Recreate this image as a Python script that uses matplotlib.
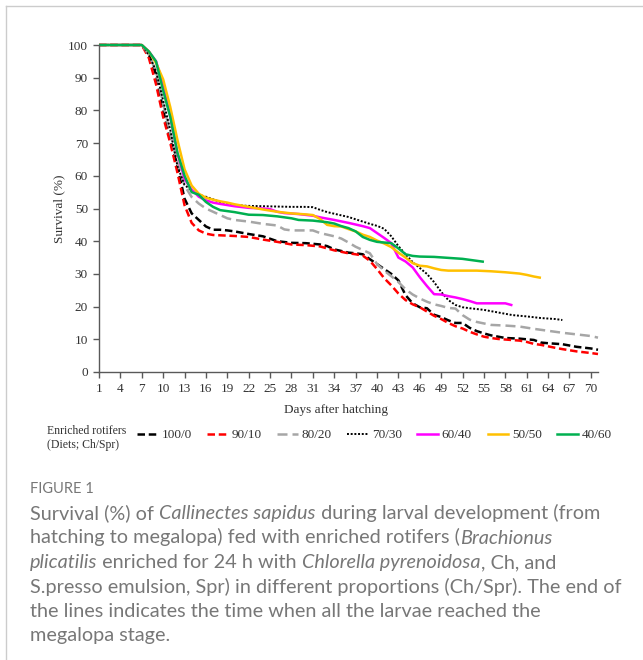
import numpy as np
import matplotlib
matplotlib.use("Agg")
import matplotlib.pyplot as plt
from matplotlib.lines import Line2D

# Dados (dia, sobrevivência %)
dias_100_0 = [1, 7, 8, 9, 10, 11, 12, 13, 14, 15, 16, 17, 18, 19, 20, 22, 24, 26, 28, 30, 32, 33, 34, 36, 37,
              38, 39, 40, 41, 42, 43, 44, 45, 46, 47, 48, 49, 50, 51, 52, 53, 54, 55, 56, 58, 60, 62, 63, 64,
              66, 68, 70, 71]
surv_100_0 = [100, 100, 97, 91, 80, 71, 63, 53, 48.5, 46.5, 44.5, 43.5, 43.5, 43.3, 43, 42.2, 41.5, 40, 39.5,
              39.4, 39, 38.5, 37.5, 36.5, 36.3, 36, 34.5, 33, 31.5, 30, 28, 23.5, 21, 19.8, 19.5, 17.5, 16.8,
              15.8, 15, 15, 13.5, 12.5, 11.8, 11.2, 10.4, 10.2, 9.8, 9, 8.8, 8.5, 7.7, 7.2, 6.8]

dias_90_10 = [1, 7, 8, 9, 10, 11, 12, 13, 14, 15, 16, 17, 18, 20, 22, 24, 26, 28, 30, 32, 34, 36, 37, 38, 39,
              40, 41, 42, 43, 44, 45, 46, 47, 48, 49, 50, 51, 52, 53, 54, 55, 56, 57, 60, 61, 62, 63, 65, 66,
              68, 70, 71]
surv_90_10 = [100, 100, 96, 88, 78, 70, 61, 51, 45.6, 43.3, 42.3, 41.9, 41.8, 41.6, 41.3, 40.5, 39.8, 39, 38.8,
              38.4, 37.2, 36.3, 36, 35.6, 34, 31.5, 28.7, 26.5, 24, 22, 20.7, 19.8, 18.5, 17.2, 16.2, 15, 14,
              13.3, 12.3, 11.5, 10.8, 10.4, 10.1, 9.6, 9.2, 8.6, 8.3, 7.4, 7, 6.3, 5.8, 5.5]

dias_80_20 = [1, 7, 8, 9, 10, 11, 12, 13, 14, 15, 16, 17, 18, 19, 20, 22, 24, 26, 27, 28, 31, 32, 33, 34, 35,
              36, 37, 38, 39, 40, 41, 42, 43, 44, 45, 46, 47, 48, 49, 50, 51, 52, 53, 54, 56, 58, 60, 62, 64,
              66, 68, 70, 71]
surv_80_20 = [100, 100, 97, 92, 82, 73, 64, 57, 53.5, 51.5, 50, 49, 48, 47, 46.5, 46, 45.3, 44.8, 43.6, 43.3,
              43.3, 42.5, 42, 41.5, 40.8, 39.6, 38.3, 37.3, 36.3, 33, 31, 29.3, 27.5, 25.3, 23.7, 22.5, 21.5,
              20.7, 20.2, 19.6, 19.4, 17.4, 16, 15.3, 14.4, 14.2, 13.9, 13.2, 12.6, 12, 11.5, 11, 10.5]

dias_70_30 = [1, 7, 8, 9, 10, 11, 12, 13, 14, 15, 16, 17, 18, 19, 20, 22, 24, 26, 28, 30, 31, 32, 33, 34, 35,
              36, 37, 38, 39, 40, 41, 42, 43, 44, 45, 46, 47, 48, 49, 50, 51, 52, 53, 55, 57, 59, 61, 63, 65, 66]
surv_70_30 = [100, 100, 97, 92, 83, 74, 63, 57.2, 55.5, 54.2, 53.6, 52.8, 52, 51.5, 51, 50.8, 50.7, 50.6, 50.5,
              50.5, 50.4, 49.6, 48.9, 48.4, 47.9, 47.4, 46.7, 46, 45.3, 44.7, 43.8, 41.5, 38.5, 36, 33.6, 31.8,
              30, 27.5, 24.5, 22, 20.5, 19.8, 19.5, 19, 18.2, 17.4, 17, 16.5, 16.2, 15.9]

dias_60_40 = [1, 7, 8, 9, 10, 11, 12, 13, 14, 15, 16, 17, 18, 20, 22, 24, 25, 26, 27, 29, 31, 32, 34, 36, 37,
              38, 39, 40, 41, 42, 43, 44, 45, 46, 47, 48, 49, 50, 51, 52, 53, 54, 56, 58, 59]
surv_60_40 = [100, 100, 98, 95, 88, 78, 67, 59, 55.8, 53.6, 52.5, 51.8, 51.4, 50.7, 50.2, 50, 49.8, 49, 48.6,
              48.3, 47.8, 47.3, 46.5, 45.6, 45.1, 44.6, 44, 42.5, 41, 39.4, 35, 33.8, 32, 29, 26.3, 23.8, 23.7,
              23.2, 22.8, 22.3, 21.7, 21, 21, 21, 20.4]

dias_50_50 = [1, 7, 8, 9, 10, 11, 12, 13, 14, 15, 16, 17, 18, 19, 20, 22, 24, 26, 28, 30, 31, 32, 33, 34, 35,
              36, 37, 38, 39, 40, 41, 42, 43, 44, 45, 46, 47, 48, 49, 50, 52, 54, 56, 58, 60, 61, 62, 63]
surv_50_50 = [100, 100, 98, 94.5, 89.5, 81, 71, 62, 57, 54.5, 53.3, 52.7, 52.2, 51.8, 51.3, 50.5, 49.7, 49, 48.5,
              48.2, 48, 46.8, 45, 44.6, 44.5, 43.7, 43, 42, 41.3, 40.2, 39.3, 38.2, 36.5, 35, 33.3, 32.5, 32.3,
              31.7, 31.2, 31, 31, 31, 30.8, 30.5, 30.1, 29.7, 29.2, 28.8]

dias_40_60 = [1, 7, 8, 9, 10, 11, 12, 13, 14, 15, 16, 17, 18, 19, 20, 22, 24, 26, 28, 29, 31, 33, 34, 35, 36,
              37, 38, 39, 40, 41, 42, 43, 44, 45, 46, 48, 50, 52, 53, 54, 55]
surv_40_60 = [100, 100, 98, 95, 86, 78, 67, 60, 55, 54.2, 52, 50.5, 49.5, 49.2, 48.9, 48.1, 48, 47.6, 47, 46.5,
              46.3, 45.8, 45.4, 44.6, 44, 43, 41.3, 40.4, 39.8, 39.6, 39.4, 37.8, 36, 35.5, 35.3, 35.2, 34.9,
              34.6, 34.3, 34, 33.7]

rotulos = ["100/0", "90/10", "80/20", "70/30", "60/40", "50/50", "40/60"]
ticks_x = list(range(1, 71, 3))
ticks_y = list(range(0, 101, 10))

series = [
    (dias_100_0, surv_100_0, dict(color="black", lw=1.8, ls=(0, (3, 1.5)))),
    (dias_90_10, surv_90_10, dict(color="#FF0000", lw=1.8, ls=(0, (3, 1.5)))),
    (dias_80_20, surv_80_20, dict(color="#A6A6A6", lw=1.8, ls=(0, (4, 2)))),
    (dias_70_30, surv_70_30, dict(color="black", lw=1.4, ls=(0, (1, 0.9)))),
    (dias_60_40, surv_60_40, dict(color="#FF00FF", lw=1.8, ls="-")),
    (dias_50_50, surv_50_50, dict(color="#FFC000", lw=1.8, ls="-")),
    (dias_40_60, surv_40_60, dict(color="#00B050", lw=1.8, ls="-")),
]

W, H = 643, 660
fig = plt.figure(figsize=(W / 100, H / 100), dpi=100)
serif = "Liberation Serif"
cor_eixo = "#595959"
cor_texto = "#333333"

ax = fig.add_axes([99 / W, 1 - 372 / H, 499 / W, 327 / H])
for d, s, st in series:
    ax.plot(d, s, clip_on=False, solid_capstyle="butt", dash_capstyle="butt", **st)

ax.set_xlim(1, 71)
ax.set_ylim(0, 100)
ax.set_xticks(ticks_x)
ax.set_yticks(ticks_y)
for lado in ["top", "right"]:
    ax.spines[lado].set_visible(False)
for lado in ["left", "bottom"]:
    ax.spines[lado].set_color(cor_eixo)
    ax.spines[lado].set_linewidth(1)
ax.tick_params(direction="out", length=4, width=1, color=cor_eixo, labelcolor=cor_texto,
               labelsize=9.5, pad=4)
for lab in ax.get_xticklabels() + ax.get_yticklabels():
    lab.set_fontfamily(serif)

ax.set_xlabel("Days after hatching", fontsize=9.5, family=serif, color=cor_texto)
ax.xaxis.set_label_coords(0.474, -0.098)
ax.set_ylabel("Survival (%)", fontsize=9.5, family=serif, color=cor_texto, va="center")
ax.yaxis.set_label_coords(-0.080, 0.5)

# Legenda
fig.text(47 / W, 1 - 438 / H, "Enriched rotifers\n(Diets; Ch/Spr)", family=serif, fontsize=8.5,
         color=cor_texto, va="center", ha="left", linespacing=1.15)
handles = [Line2D([], [], **st) for _, _, st in series]
leg = fig.legend(handles, rotulos, loc="center left", bbox_to_anchor=(137 / W, 1 - 435 / H),
                 ncol=7, frameon=False, borderpad=0, borderaxespad=0, handlelength=1.55,
                 handletextpad=0.3, columnspacing=1.18, prop=dict(family=serif, size=9.5))
for t in leg.get_texts():
    t.set_color(cor_texto)

# Moldura
fig.add_artist(Line2D([6 / W, 1], [1 - 6 / H, 1 - 6 / H], color="#cccccc", lw=1))
fig.add_artist(Line2D([6 / W, 6 / W], [0, 1 - 6 / H], color="#cccccc", lw=1))

# Legenda da figura
cap_font = "Lato"
cap_cor = "#777777"
cap_size = 14.3
fig.text(30 / W, 1 - 493 / H, "FIGURE 1", family=cap_font, fontsize=10.5, color=cap_cor, va="baseline")

renderer = fig.canvas.get_renderer()


def largura(txt, italico):
    estilo = "italic" if italico else "normal"
    t = fig.text(0, 0, "|" + txt + "|", family=cap_font, fontsize=cap_size, style=estilo)
    t2 = fig.text(0, 0, "||", family=cap_font, fontsize=cap_size, style=estilo)
    w = t.get_window_extent(renderer).width - t2.get_window_extent(renderer).width
    t.remove()
    t2.remove()
    return w


linhas = [
    [("Survival (%) of ", False), ("Callinectes sapidus", True), (" during larval development (from", False)],
    [("hatching to megalopa) fed with enriched rotifers (", False), ("Brachionus", True)],
    [("plicatilis", True), (" enriched for 24 h with ", False), ("Chlorella pyrenoidosa", True),
     (", Ch, and", False)],
    [("S.presso emulsion, Spr) in different proportions (Ch/Spr). The end of", False)],
    [("the lines indicates the time when all the larvae reached the", False)],
    [("megalopa stage.", False)],
]
y0 = 519
for i, partes in enumerate(linhas):
    x = 30.0
    y = y0 + i * 24.5
    for txt, it in partes:
        fig.text(x / W, 1 - y / H, txt, family=cap_font, fontsize=cap_size, color=cap_cor,
                 style="italic" if it else "normal", va="baseline", ha="left")
        x += largura(txt, it)

fig.savefig("out.png", dpi=100)
